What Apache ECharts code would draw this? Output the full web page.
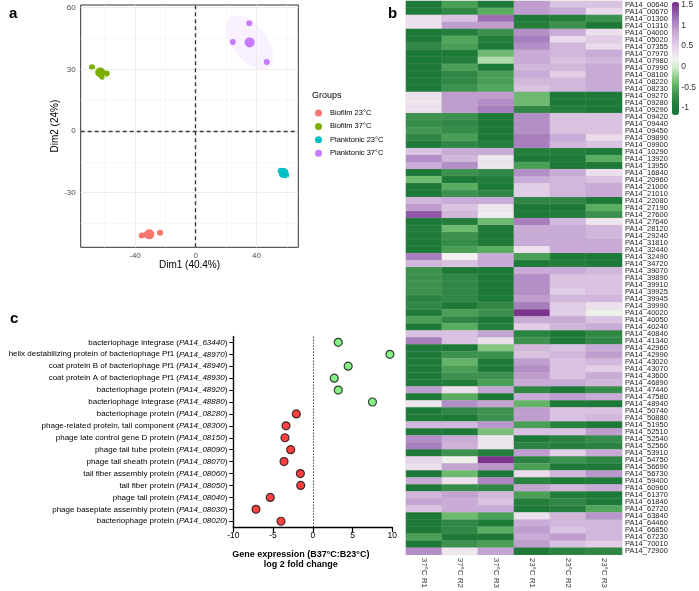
<!DOCTYPE html>
<html><head><meta charset="utf-8">
<script src="https://cdn.jsdelivr.net/npm/echarts@6/dist/echarts.min.js"></script>
<style>html,body{margin:0;padding:0;background:#fff}#c{width:699px;height:591px}</style>
</head><body><div id="c"></div>
<script>
// ---------- Panel a : PCA ----------
const pcaGroups = ['Biofilm 23°C', 'Biofilm 37°C', 'Planktonic 23°C', 'Planktonic 37°C'];
const pcaColors = ['#F8766D', '#7CAE00', '#00BFC4', '#C77CFF'];
const b23Dim1 = [-35.6, -23.5, -32.7];
const b23Dim2 = [-50.9, -49.5, -50.5];
const b37Dim1 = [-68.4, -58.7, -61.6];
const b37Dim2 = [31.0, 28.0, 26.4];
const p23Dim1 = [56.0, 58.2, 59.5];
const p23Dim2 = [-19.3, -20.6, -21.6];
const p37Dim1 = [35.3, 24.4, 46.8];
const p37Dim2 = [52.4, 43.3, 33.6];
const pcaXTicks = [-40, 0, 40];
const pcaYTicks = [-30, 0, 30, 60];
const pcaXMinor = [-60, -20, 20, 60];
const pcaYMinor = [-45, -15, 15, 45];

// ---------- Panel b : heatmap ----------
const heatCols = ['37°C R1', '37°C R2', '37°C R3', '23°C R1', '23°C R2', '23°C R3'];
const heatGenes = ['00640','00670','01300','01310','04000','05020','07355','07970','07980','07990',
 '08100','08220','08230','09270','09280','09290','09420','09440','09450','09890',
 '09900','10290','13920','13950','16840','20960','21000','21010','22080','27190',
 '27600','27640','28120','29240','31810','32440','32490','34720','39070','39890',
 '39910','39925','39945','39990','40020','40050','40240','40840','41340','42960',
 '42990','43020','43070','43600','46890','47440','47580','48940','50740','50880',
 '51950','52510','52540','52560','53910','54750','56690','56730','59400','60960',
 '61370','61840','62720','63840','64460','66850','67230','70010','72900'].map(g => 'PA14_' + g);
const v37R1 = [-1.1,-1.1,0.35,0.35,-1.1,-1.0,-0.8,-1.1,-1.1,-1.1,
 -1.1,-1.0,-1.1,0.35,0.3,0.35,-0.7,-0.75,-0.65,-0.8,
 -1.0,0.6,1.0,0.8,-1.1,-0.4,-1.1,-1.1,0.7,0.9,
 1.3,-1.1,-0.9,-1.0,-1.0,-1.1,1.1,0.7,-0.7,-0.7,
 -0.7,-0.7,-0.85,-0.8,-1.1,-0.6,-1.1,0.6,1.1,-1.0,
 -1.1,-1.1,-1.1,-1.1,-1.0,0.9,-1.1,0.3,-1.1,-1.1,
 0.7,-1.1,1.0,1.1,-1.1,0.45,0.35,-1.1,0.8,-1.1,
 0.7,0.85,0.6,-1.1,-1.0,-1.1,-0.6,-1.1,1.0];
const v37R2 = [-0.6,-0.8,0.6,0.9,-0.9,-0.55,-0.6,-1.1,-0.9,-0.6,
 -0.8,-0.8,-0.7,0.9,0.9,0.9,-0.7,-0.8,-0.75,-0.6,
 -0.8,0.8,0.7,1.0,-0.7,-1.1,-0.5,-0.7,0.8,0.6,
 0.7,-0.9,-0.4,-0.7,-0.75,-0.6,0.2,0.6,-1.1,-0.8,
 -0.8,-0.8,-0.8,-1.1,-0.6,-0.8,-0.5,0.6,0.6,-1.1,
 -0.7,-0.45,-0.6,-0.7,-0.9,0.35,-0.5,1.0,-0.8,-1.1,
 0.7,-1.1,0.8,0.75,-0.7,0.15,0.85,-0.4,0.35,-0.75,
 0.85,0.8,0.8,-0.4,-0.8,-0.8,-1.1,-0.7,0.3];
const v37R3 = [-1.1,-0.5,1.2,0.9,-0.7,-0.9,-1.1,-0.4,-0.15,-1.1,
 -0.6,-0.6,-0.55,0.9,1.0,1.1,-1.1,-1.1,-1.1,-1.1,
 -0.9,0.8,0.3,0.3,-0.8,-0.9,-1.1,-0.8,0.8,0.3,
 0.25,-0.4,-1.1,-1.1,-1.1,-0.5,0.8,0.8,-1.0,-1.1,
 -1.1,-1.1,-1.0,-0.8,-0.7,-1.1,-0.9,0.85,0.35,-0.3,
 -0.7,-1.1,-1.1,-0.7,-0.6,0.85,-1.1,0.85,-0.7,-0.7,
 0.95,-0.35,0.3,0.3,-0.9,1.5,0.95,-1.1,1.05,-0.8,
 0.7,0.6,0.8,-0.6,-1.0,-0.5,-1.1,-0.6,0.85];
const v23R1 = [0.9,0.9,-1.0,-0.9,1.0,1.1,1.0,0.8,0.8,0.7,
 0.8,0.7,0.6,-0.4,-0.4,-0.8,1.0,1.0,1.0,1.1,
 1.1,-0.9,-1.1,-0.6,1.0,0.8,0.5,0.5,-0.8,-1.1,
 -1.0,1.1,0.8,0.8,0.8,0.35,-0.6,-1.1,0.8,1.0,
 1.0,1.0,0.9,1.1,1.5,0.8,0.5,-0.85,-0.7,0.7,
 0.6,0.9,1.0,0.9,0.8,-0.8,0.8,-0.45,0.9,0.9,
 -0.6,0.6,-1.1,-0.85,0.9,-0.85,-0.6,0.4,-0.85,0.85,
 -0.6,-0.9,-1.1,0.35,0.8,0.9,0.8,0.9,-1.05];
const v23R2 = [0.6,0.8,-0.9,-0.7,0.8,0.4,0.7,0.7,0.6,0.7,
 0.5,0.7,0.7,-1.1,-1.1,-0.9,0.6,0.6,0.6,0.8,
 0.7,-0.9,-1.0,-1.1,0.8,0.7,0.7,0.7,-0.8,-1.1,
 -0.9,0.7,0.8,0.8,0.8,0.8,-1.0,-0.9,0.8,0.6,
 0.6,0.5,0.7,0.5,0.5,0.8,0.7,-1.05,-1.1,0.6,
 0.7,0.6,0.6,0.6,0.8,-1.1,0.9,-1.1,0.6,0.6,
 -0.85,0.6,-0.85,-0.9,0.5,-0.7,-1.1,0.7,-1.0,0.7,
 -0.9,-0.8,-0.9,0.7,0.7,0.6,0.9,0.6,-0.85];
const v23R3 = [0.6,0.4,-0.7,-1.1,0.35,0.5,0.4,0.8,0.7,0.8,
 0.8,0.8,0.8,-1.1,-1.1,-1.1,0.6,0.6,0.6,0.4,
 0.6,-1.0,-0.5,-1.0,0.35,0.6,0.8,0.8,-1.1,-0.5,
 -0.7,0.3,0.7,0.7,0.8,0.8,-1.1,-1.0,0.7,0.6,
 0.6,0.6,0.7,0.35,0.15,0.6,0.8,-0.8,-0.8,0.8,
 0.9,0.7,0.5,0.8,0.7,-0.75,0.8,-1.1,0.6,0.7,
 -1.1,0.9,-0.75,-0.85,0.8,-0.8,-1.0,0.95,-1.0,0.8,
 -1.1,-1.1,-0.55,0.95,0.7,0.7,0.7,0.5,-0.8];
const colorbarTicks = [-1, -0.5, 0, 0.5, 1, 1.5];
const heatMin = -1.17, heatMax = 1.55;

// ---------- Panel c : fold change ----------
const cProteins = ['bacteriophage integrase', 'helix destabilizing protein of bacteriophage Pf1',
 'coat protein B of bacteriophage Pf1', 'coat protein A of bacteriophage Pf1', 'bacteriophage protein',
 'bacteriophage integrase', 'bacteriophage protein', 'phage-related protein, tail component',
 'phage late control gene D protein', 'phage tail tube protein', 'phage tail sheath protein',
 'tail fiber assembly protein', 'tail fiber protein', 'phage tail protein',
 'phage baseplate assembly protein', 'bacteriophage protein'];
const cGenes = ['PA14_63440','PA14_48970','PA14_48940','PA14_48930','PA14_48920','PA14_48880',
 'PA14_08280','PA14_08300','PA14_08150','PA14_08090','PA14_08070','PA14_08060','PA14_08050',
 'PA14_08040','PA14_08030','PA14_08020'];
const cLog2FC = [3.2, 9.7, 4.45, 2.7, 3.2, 7.5, -2.07, -3.37, -3.5, -2.78, -3.62, -1.56, -1.52, -5.35, -7.15, -4.0];
const cXTicks = [-10, -5, 0, 5, 10];

// ---------- helpers ----------
const FONT = '"Liberation Sans", Arial, Helvetica, sans-serif';
function mean(a) { return a.reduce((s, v) => s + v, 0) / a.length; }
function rgba(hex, a) {
  const n = parseInt(hex.slice(1), 16);
  return 'rgba(' + ((n >> 16) & 255) + ',' + ((n >> 8) & 255) + ',' + (n & 255) + ',' + a + ')';
}
function ellipse(xs, ys, k, n) {
  const mx = mean(xs), my = mean(ys), m = xs.length;
  let sxx = 0, syy = 0, sxy = 0;
  for (let i = 0; i < m; i++) {
    const dx = xs[i] - mx, dy = ys[i] - my;
    sxx += dx * dx; syy += dy * dy; sxy += dx * dy;
  }
  sxx /= (m - 1); syy /= (m - 1); sxy /= (m - 1);
  const tr = sxx + syy, det = sxx * syy - sxy * sxy;
  const disc = Math.sqrt(Math.max(0, tr * tr / 4 - det));
  const l1 = tr / 2 + disc, l2 = Math.max(0, tr / 2 - disc);
  let ang = Math.abs(sxy) < 1e-9 ? (sxx >= syy ? 0 : Math.PI / 2) : Math.atan2(l1 - sxx, sxy);
  const a = k * Math.sqrt(l1), b = k * Math.sqrt(l2);
  const pts = [];
  for (let i = 0; i < n; i++) {
    const t = 2 * Math.PI * i / n;
    pts.push([mx + a * Math.cos(t) * Math.cos(ang) - b * Math.sin(t) * Math.sin(ang),
              my + a * Math.cos(t) * Math.sin(ang) + b * Math.sin(t) * Math.cos(ang)]);
  }
  return pts;
}

const groupX = [b23Dim1, b37Dim1, p23Dim1, p37Dim1];
const groupY = [b23Dim2, b37Dim2, p23Dim2, p37Dim2];
const ellipses = groupX.map((xs, g) => ellipse(xs, groupY[g], 1.4, 72));
const heatColsData = [v37R1, v37R2, v37R3, v23R1, v23R2, v23R3];

const series = [];
// gridlines (panel a)
series.push({
  type: 'scatter', xAxisIndex: 0, yAxisIndex: 0, data: [], z: 1, silent: true,
  markLine: {
    silent: true, symbol: ['none', 'none'], label: { show: false }, animation: false,
    data: [].concat(
      pcaXMinor.map(v => ({ xAxis: v, lineStyle: { color: '#f4f4f4', width: 0.6, type: 'solid' } })),
      pcaYMinor.map(v => ({ yAxis: v, lineStyle: { color: '#f4f4f4', width: 0.6, type: 'solid' } })),
      pcaXTicks.map(v => ({ xAxis: v, lineStyle: { color: '#ebebeb', width: 0.9, type: 'solid' } })),
      pcaYTicks.map(v => ({ yAxis: v, lineStyle: { color: '#ebebeb', width: 0.9, type: 'solid' } }))
    )
  }
});
// ellipses
series.push({
  type: 'custom', xAxisIndex: 0, yAxisIndex: 0, z: 2, silent: true,
  data: groupX.map((xs, g) => [mean(xs), mean(groupY[g])]),
  renderItem: function (params, api) {
    const g = params.dataIndex;
    return {
      type: 'polygon',
      shape: { points: ellipses[g].map(p => api.coord(p)) },
      style: { fill: rgba(pcaColors[g], 0.11), stroke: null }
    };
  }
});
// zero dashed lines
series.push({
  type: 'scatter', xAxisIndex: 0, yAxisIndex: 0, data: [], z: 3, silent: true,
  markLine: {
    silent: true, symbol: ['none', 'none'], label: { show: false }, animation: false,
    lineStyle: { color: '#3a3a3a', width: 1.4, type: [4, 3] },
    data: [{ xAxis: 0 }, { yAxis: 0 }]
  }
});
// replicate points & centroids
pcaGroups.forEach((name, g) => {
  series.push({
    type: 'scatter', name: name, xAxisIndex: 0, yAxisIndex: 0, z: 4,
    symbol: 'circle', symbolSize: 6, itemStyle: { color: pcaColors[g], opacity: 1 },
    data: groupX[g].map((x, i) => [x, groupY[g][i]])
  });
});
pcaGroups.forEach((name, g) => {
  series.push({
    type: 'scatter', name: name, xAxisIndex: 0, yAxisIndex: 0, z: 5,
    symbol: 'circle', symbolSize: 10, itemStyle: { color: pcaColors[g], opacity: 1 },
    data: [[mean(groupX[g]), mean(groupY[g])]]
  });
});
// heatmap
const heatData = [];
heatColsData.forEach((col, c) => col.forEach((v, r) => heatData.push([c, r, v])));
const heatSeriesIndex = series.length;
series.push({
  type: 'heatmap', xAxisIndex: 1, yAxisIndex: 1, data: heatData,
  itemStyle: { borderColor: 'rgba(190,190,190,0.35)', borderWidth: 0.4 },
  emphasis: { disabled: true }
});
// dot plot
series.push({
  type: 'scatter', xAxisIndex: 2, yAxisIndex: 2, z: 5, symbol: 'circle', symbolSize: 8,
  data: cLog2FC.map((v, i) => ({
    value: [v, cGenes[i]],
    itemStyle: { color: v > 0 ? '#66EE66' : '#FF1111', borderColor: '#111', borderWidth: 1.2 }
  })),
  markLine: {
    silent: true, symbol: ['none', 'none'], label: { show: false }, animation: false,
    lineStyle: { color: '#444', width: 1, type: [1.5, 1.5] },
    data: [{ xAxis: 0 }]
  }
});
// colorbar axis carrier
series.push({ type: 'scatter', xAxisIndex: 3, yAxisIndex: 3, data: [] });

const option = {
  animation: false,
  backgroundColor: '#fff',
  textStyle: { fontFamily: FONT },
  title: [
    { text: 'a', left: 9, top: 6, padding: 0, textStyle: { fontSize: 15, fontWeight: 'bold', color: '#000', fontFamily: FONT } },
    { text: 'b', left: 388, top: 6, padding: 0, textStyle: { fontSize: 15, fontWeight: 'bold', color: '#000', fontFamily: FONT } },
    { text: 'c', left: 10, top: 311, padding: 0, textStyle: { fontSize: 15, fontWeight: 'bold', color: '#000', fontFamily: FONT } },
    { text: 'Groups', left: 312, top: 91, padding: 0, textStyle: { fontSize: 9, fontWeight: 'normal', color: '#000', fontFamily: FONT } }
  ],
  legend: {
    data: pcaGroups, orient: 'vertical', left: 315, top: 108.5, padding: 0,
    icon: 'circle', itemWidth: 7, itemHeight: 7, itemGap: 4.4, selectedMode: false,
    textStyle: { fontSize: 7.5, color: '#000', lineHeight: 9, padding: [0, 0, 0, 3], fontFamily: FONT }
  },
  grid: [
    { left: 80.7, top: 5, width: 217.6, height: 242.3, show: true, borderColor: '#333', borderWidth: 1, backgroundColor: 'transparent' },
    { left: 406, top: 1, width: 216, height: 558 },
    { left: 233.3, top: 336.4, width: 159, height: 190.8 },
    { left: 672, top: 2, width: 7, height: 113 }
  ],
  xAxis: [
    {
      type: 'value', gridIndex: 0, min: -75.8, max: 67.6,
      axisLine: { show: false },
      axisTick: { show: true, customValues: pcaXTicks, length: 3, lineStyle: { color: '#333' } },
      axisLabel: { customValues: pcaXTicks, fontSize: 8, color: '#4d4d4d', margin: 4 },
      splitLine: { show: false },
      name: 'Dim1 (40.4%)', nameLocation: 'middle', nameGap: 12,
      nameTextStyle: { fontSize: 10, color: '#000' }
    },
    {
      type: 'category', gridIndex: 1, data: heatCols,
      axisLine: { show: false }, axisTick: { show: false }, splitLine: { show: false },
      axisLabel: { rotate: -90, fontSize: 8, margin: 3, interval: 0, color: '#333' }
    },
    {
      type: 'value', gridIndex: 2, min: -10, max: 10, interval: 5,
      axisLine: { show: true, onZero: false, lineStyle: { color: '#000', width: 1.4 } },
      axisTick: { show: true, length: 5, lineStyle: { color: '#000', width: 1.2 } },
      axisLabel: { fontSize: 8.5, color: '#000', margin: 4 },
      splitLine: { show: false },
      name: 'Gene expression (B37°C:B23°C)\nlog 2 fold change', nameLocation: 'middle', nameGap: 22,
      nameTextStyle: { fontSize: 9, fontWeight: 'bold', color: '#000', lineHeight: 10, padding: [0, 24, 0, 0] }
    },
    { type: 'category', gridIndex: 3, data: ['k'], show: false }
  ],
  yAxis: [
    {
      type: 'value', gridIndex: 0, min: -56.6, max: 61.3,
      axisLine: { show: false },
      axisTick: { show: true, customValues: pcaYTicks, length: 3, lineStyle: { color: '#333' } },
      axisLabel: { customValues: pcaYTicks, fontSize: 8, color: '#4d4d4d', margin: 5 },
      splitLine: { show: false },
      name: 'Dim2 (24%)', nameLocation: 'middle', nameGap: 13, nameRotate: 90,
      nameTextStyle: { fontSize: 10, color: '#000' }
    },
    {
      type: 'category', gridIndex: 1, data: heatGenes, inverse: true, position: 'right',
      axisLine: { show: false }, axisTick: { show: false }, splitLine: { show: false },
      axisLabel: { interval: 0, fontSize: 7.5, margin: 3, color: '#222' }
    },
    {
      type: 'category', gridIndex: 2, data: cGenes, inverse: true,
      axisLine: { show: true, onZero: false, lineStyle: { color: '#000', width: 1.4 } },
      axisTick: { show: true, alignWithLabel: true, length: 4, lineStyle: { color: '#000', width: 1 } },
      splitLine: { show: false },
      axisLabel: {
        interval: 0, margin: 6,
        formatter: function (val, idx) { return '{n|' + cProteins[idx] + ' (}{i|' + val + '}{n|)}'; },
        rich: {
          n: { fontSize: 8, color: '#000', fontFamily: FONT },
          i: { fontSize: 8, color: '#000', fontStyle: 'italic', fontFamily: FONT }
        }
      }
    },
    {
      type: 'value', gridIndex: 3, min: heatMin, max: heatMax, position: 'right',
      axisLine: { show: false }, axisTick: { show: false }, splitLine: { show: false },
      axisLabel: { customValues: colorbarTicks, fontSize: 8.5, margin: 3, color: '#333' }
    }
  ],
  visualMap: {
    type: 'continuous', seriesIndex: heatSeriesIndex, min: heatMin, max: heatMax,
    calculable: false, show: true, orient: 'vertical', left: 672, top: 2, padding: 0,
    itemWidth: 7, itemHeight: 113, text: null, hoverLink: false,
    inRange: {
      color: ['#1b7837', '#1e7a38', '#3a8f4d', '#5aae61', '#8fcb8a', '#cfeac9', '#f3f3f1',
              '#e9d8eb', '#d6bee0', '#c2a3d1', '#a87fbf', '#8f55a6', '#762a83']
    }
  },
  series: series
};

const chart = echarts.init(document.getElementById('c'), null, { renderer: 'canvas' });
chart.setOption(option);
</script>
</body></html>
